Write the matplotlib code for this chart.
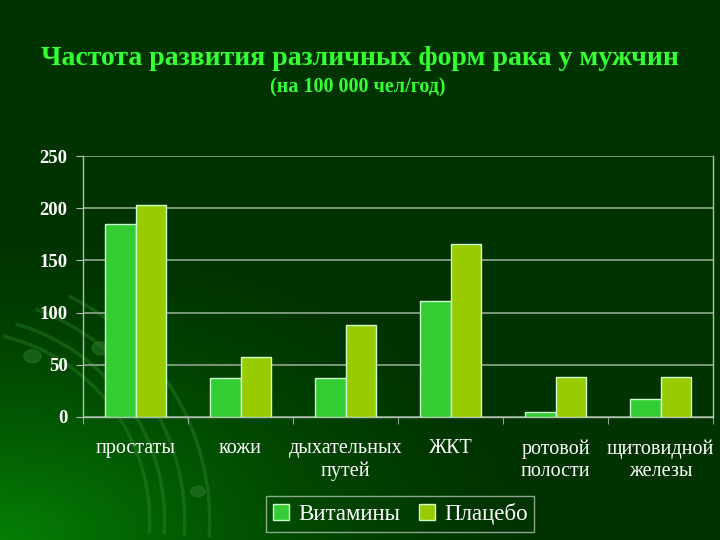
import numpy as np
import matplotlib.pyplot as plt
from matplotlib.patches import Arc, Circle

categories = ['простаты', 'кожи', 'дыхательных\nпутей', 'ЖКТ', 'ротовой\nполости', 'щитовидной\nжелезы']
vitamins = [185, 37, 37, 111, 5, 17]
placebo = [203, 57, 88, 166, 38, 38]
series_names = ['Витамины', 'Плацебо']
yticks = [0, 50, 100, 150, 200, 250]

plt.rcParams['font.family'] = ['Liberation Serif', 'DejaVu Serif']

fig = plt.figure(figsize=(7.2, 5.4), dpi=100)
fig.patch.set_facecolor('#003300')

# background: dark green with a lighter glow in the bottom-left corner
bg = fig.add_axes([0, 0, 1, 1], zorder=-10)
yy, xx = np.mgrid[0:1:270j, 0:1:360j]
dist = np.sqrt((xx * 1.0) ** 2 + ((yy) * 1.3) ** 2)
glow = np.clip(1 - dist / 0.75, 0, 1) ** 1.5
r = 0.0 + 0.02 * glow
g = 0.2 + 0.3 * glow
b = 0.0 + 0.02 * glow
img = np.dstack([r, g, b])
bg.imshow(img, origin='lower', extent=[0, 1, 0, 1], aspect='auto')
# faint swirl lines
for rad, t1, t2 in [(190, -5, 80), (205, -5, 78), (225, -5, 75), (250, -5, 70)]:
    bg.add_patch(Arc((-0.056, 0.035), 2 * rad / 720, 2 * rad / 540, theta1=t1, theta2=t2,
                     color='#3a9a3a', lw=2.5, alpha=0.3))
bg.add_patch(Circle((0.045, 0.34), 0.012, color='#2a7a2a', alpha=0.5))
bg.add_patch(Circle((0.14, 0.355), 0.012, color='#2a7a2a', alpha=0.5))
bg.add_patch(Circle((0.275, 0.09), 0.01, color='#2a7a2a', alpha=0.5))
bg.set_xlim(0, 1)
bg.set_ylim(0, 1)
bg.axis('off')

fig.text(0.5, 0.892, 'Частота развития различных форм рака у мужчин', ha='center', va='center',
         color='#33ff33', fontsize=20, fontweight='bold')
fig.text(0.497, 0.838, '(на 100 000 чел/год)', ha='center', va='center',
         color='#33ff33', fontsize=14.5, fontweight='bold')

ax = fig.add_axes([0.1153, 0.2278, 0.875, 0.4833])
ax.set_facecolor('none')
x = np.arange(len(categories))
w = 0.29
ax.bar(x - w / 2, vitamins, w, color='#33cc33', edgecolor='#ccffcc', linewidth=1, label=series_names[0], zorder=3)
ax.bar(x + w / 2, placebo, w, color='#99cc00', edgecolor='#ccffcc', linewidth=1, label=series_names[1], zorder=3)

ax.set_xlim(-0.5, len(categories) - 0.5)
ax.set_ylim(0, 250)
ax.set_yticks(yticks)
ax.set_yticklabels([str(v) for v in yticks], color='white', fontsize=13.5, fontweight='bold')
ax.yaxis.grid(True, color='#8fa88f', linewidth=1.2, zorder=0)
ax.tick_params(axis='y', colors='#b0c0b0', length=5, labelcolor='white', pad=6)

ax.set_xticks(x)
ax.set_xticklabels(categories, color='white', fontsize=14.5, linespacing=1.2)
ax.tick_params(axis='x', length=0, pad=16)
ax.set_xticks(np.arange(len(categories) + 1) - 0.5, minor=True)
ax.tick_params(axis='x', which='minor', length=5, colors='#b0c0b0')

for side in ['left', 'right', 'bottom']:
    ax.spines[side].set_color('#b0c0b0')
    ax.spines[side].set_linewidth(1)
ax.spines['top'].set_visible(False)

leg = fig.legend(loc='center', bbox_to_anchor=(0.556, 0.048), ncol=2, frameon=True,
                 fontsize=16.5, handlelength=0.7, handleheight=0.7, handletextpad=0.4,
                 columnspacing=0.8, borderpad=0.3, fancybox=False)
leg.get_frame().set_facecolor('none')
leg.get_frame().set_edgecolor('#b0c0b0')
for t in leg.get_texts():
    t.set_color('white')

fig.savefig('out.png', dpi=100, facecolor=fig.get_facecolor())
